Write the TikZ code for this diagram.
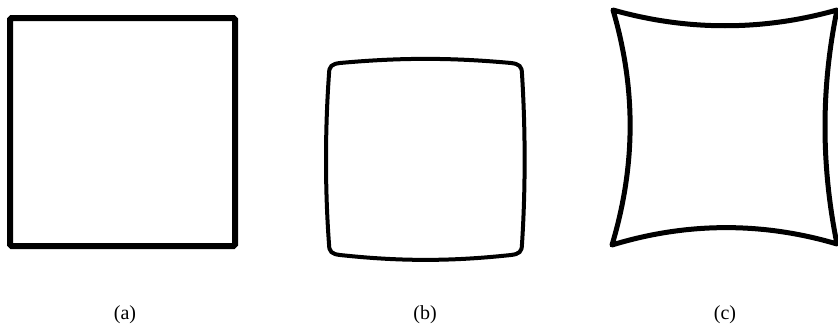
\documentclass[tikz,border=0pt]{standalone}
\usepackage{fontspec}
\setmainfont{Liberation Serif}
\begin{document}
\begin{tikzpicture}[x=1pt,y=-1pt,
  didascalia/.style={font=\fontsize{20}{22}\selectfont,inner sep=0pt}]
  \clip (0,0) rectangle (838,324);
  \fill[white] (0,0) rectangle (838,324);

  % quadrato
  \draw[line width=6pt,rounded corners=1.5pt] (10,18) rectangle (235,246);

  % barile
  \draw[line width=4pt]
    (340,63) .. controls (400,57.5) and (451,57.5) .. (511,63)
    .. controls (519,64) and (522,66) .. (522,74)
    .. controls (525.5,130) and (525.5,190) .. (522,244)
    .. controls (522,252) and (519,254) .. (511,255)
    .. controls (451,261.5) and (400,261.5) .. (340,255)
    .. controls (332,254) and (329,252) .. (329,244)
    .. controls (325,190) and (325,130) .. (329,74)
    .. controls (329,66) and (332,64) .. (340,63) -- cycle;

  % cuscinetto
  \draw[line width=5pt,line join=round]
    (613,10) .. controls (687,31) and (763,31) .. (837,10)
    .. controls (821,88) and (821,165) .. (837,244)
    .. controls (763,222) and (687,222) .. (612,245)
    .. controls (636,165) and (636,88) .. (613,10) -- cycle;

  % didascalie
  \node[didascalia] (a) at (125,315) {(a)};
  \node[didascalia] (b) at (425,315) {(b)};
  \node[didascalia] (c) at (725,315) {(c)};
\end{tikzpicture}
\end{document}
